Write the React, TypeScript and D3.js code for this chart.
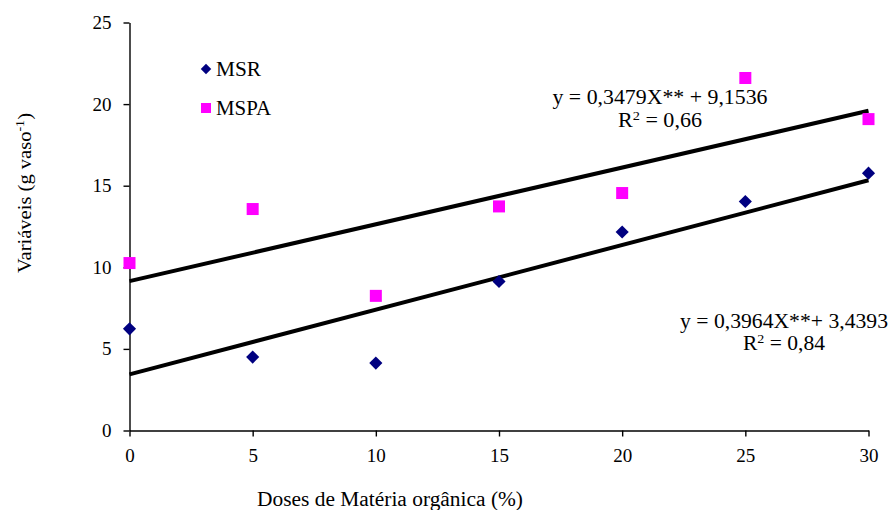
import React, { useRef, useEffect } from 'react'
import * as d3 from 'd3'

// doses de materia organica (%)
const doses = [0, 5, 10, 15, 20, 25, 30]
const msr = [6.23, 4.5, 4.13, 9.13, 12.16, 14.03, 15.77]
const mspa = [10.26, 13.57, 8.25, 13.73, 14.55, 21.6, 19.08]
const xTicks = [0, 5, 10, 15, 20, 25, 30]
const yTicks = [0, 5, 10, 15, 20, 25]
// regressions: [slope, intercept]
const fitMsr = [0.3964, 3.4393]
const fitMspa = [0.3479, 9.1536]

const W = 891
const H = 510
const FONT = "'Liberation Serif', 'DejaVu Serif', serif"

function App() {
  const svgRef = useRef<SVGSVGElement>(null)

  useEffect(() => {
    document.body.style.margin = '0'
    const svg = d3.select(svgRef.current)
    svg.selectAll('*').remove()

    const x = d3.scaleLinear().domain([0, 30]).range([129.5, 868.5])
    const y = d3.scaleLinear().domain([0, 25]).range([430.5, 22.5])

    // axes
    const gx = svg.append('g').attr('transform', 'translate(0,430.5)')
      .call(d3.axisBottom(x).tickValues(xTicks).tickSize(6).tickPadding(12).tickSizeOuter(0))
    const gy = svg.append('g').attr('transform', 'translate(129.5,0)')
      .call(d3.axisLeft(y).tickValues(yTicks).tickSize(6).tickPadding(12).tickSizeOuter(0))
    ;[gx, gy].forEach(g => {
      g.attr('font-family', null).attr('font-size', null)
      g.select('.domain').attr('stroke', '#000').attr('stroke-width', 1.4)
      g.selectAll('.tick line').attr('stroke', '#000').attr('stroke-width', 1.4)
      g.selectAll('.tick text').attr('fill', '#000')
        .style('font-family', FONT).style('font-size', '19px')
    })

    // regression lines
    const fits = [fitMspa, fitMsr]
    fits.forEach(f => {
      svg.append('path')
        .datum([0, 30])
        .attr('d', d3.line<number>().x(d => x(d)).y(d => y(f[0] * d + f[1])))
        .attr('fill', 'none')
        .attr('stroke', '#000')
        .attr('stroke-width', 4)
    })

    // points
    const diamond = d3.symbol().type(d3.symbolDiamond2).size(110)
    svg.append('g').selectAll('path')
      .data(doses.map((d, i) => [d, msr[i]]))
      .join('path')
      .attr('d', diamond)
      .attr('transform', d => `translate(${x(d[0])},${y(d[1])})`)
      .attr('fill', '#000080')

    svg.append('g').selectAll('rect')
      .data(doses.map((d, i) => [d, mspa[i]]))
      .join('rect')
      .attr('x', d => x(d[0]) - 6)
      .attr('y', d => y(d[1]) - 6)
      .attr('width', 12)
      .attr('height', 12)
      .attr('fill', '#ff00ff')

    // legend
    svg.append('path').attr('d', d3.symbol().type(d3.symbolDiamond2).size(70)())
      .attr('transform', 'translate(206,69)').attr('fill', '#000080')
    svg.append('rect').attr('x', 201).attr('y', 103).attr('width', 10).attr('height', 10)
      .attr('fill', '#ff00ff')

    const txt = (tx: number, ty: number, len: number, anchor = 'start') =>
      svg.append('text').attr('x', tx).attr('y', ty).attr('text-anchor', anchor)
        .style('font-family', FONT).style('font-size', '20px').attr('fill', '#000')
        .attr('textLength', len).attr('lengthAdjust', 'spacingAndGlyphs')
    txt(216, 76, 45).text('MSR')
    txt(216, 115, 55).text('MSPA')

    // equations
    txt(660, 104, 215, 'middle').text('y = 0,3479X** + 9,1536')
    const r1 = txt(660, 127, 84, 'middle')
    r1.append('tspan').text('R')
    r1.append('tspan').attr('dy', -7).style('font-size', '13px').text('2')
    r1.append('tspan').attr('dy', 7).text(' = 0,66')

    txt(784, 328, 208, 'middle').text('y = 0,3964X**+ 3,4393')
    const r2 = txt(784, 350, 82, 'middle')
    r2.append('tspan').text('R')
    r2.append('tspan').attr('dy', -7).style('font-size', '13px').text('2')
    r2.append('tspan').attr('dy', 7).text(' = 0,84')

    // axis titles
    txt(390, 506, 266, 'middle').text('Doses de Matéria orgânica (%)')
    const yt = svg.append('text')
      .attr('transform', 'translate(31,193) rotate(-90)')
      .attr('text-anchor', 'middle')
      .style('font-family', FONT).style('font-size', '19px').attr('fill', '#000')
      .attr('textLength', 160).attr('lengthAdjust', 'spacingAndGlyphs')
    yt.append('tspan').text('Variáveis (g vaso')
    yt.append('tspan').attr('dy', -7).style('font-size', '13px').text('-1')
    yt.append('tspan').attr('dy', 7).text(')')
  }, [])

  return <svg ref={svgRef} width={W} height={H} style={{ display: 'block', background: '#fff' }} />
}

export default App
